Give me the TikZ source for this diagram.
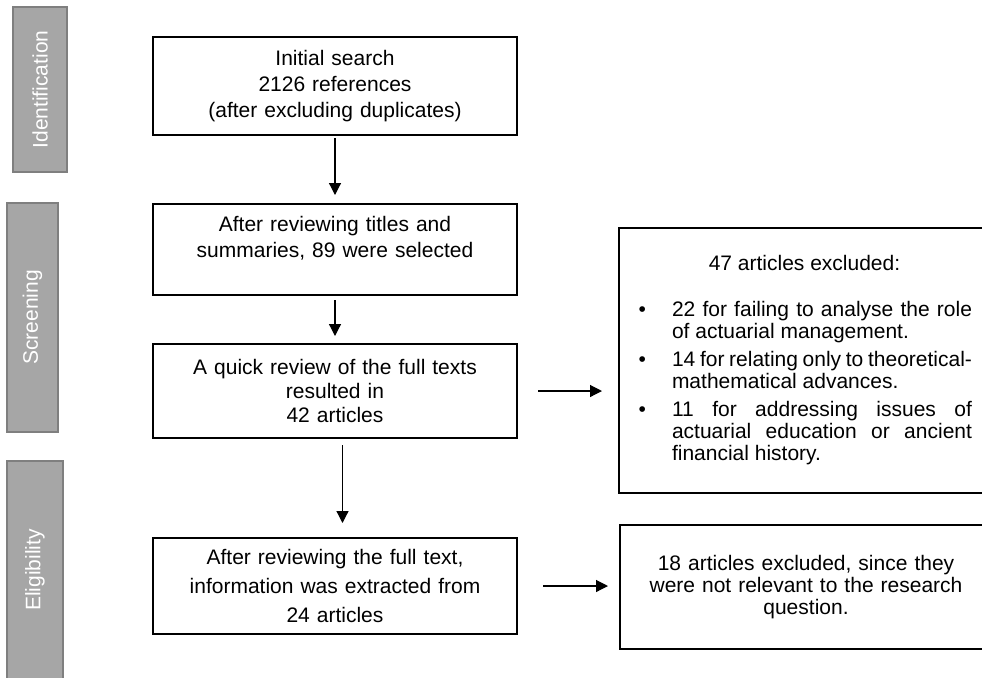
\documentclass[tikz,border=0pt]{standalone}
\usepackage{fontspec}
\setmainfont{Liberation Sans}
\usepackage{enumitem}
\usetikzlibrary{arrows.meta, positioning}

\definecolor{barfill}{HTML}{A6A6A6}
\definecolor{barline}{HTML}{7F7F7F}

\begin{document}
\begin{tikzpicture}[
      x=0.5pt, y=-0.5pt,
      stage/.style={rectangle, draw=barline, fill=barfill, line width=0.8pt, rotate=90, text=white, font=\fontsize{10.5}{12}\selectfont},
      block/.style={rectangle, draw, line width=1pt, text width=170pt, inner xsep=6pt, align=center, font=\fontsize{10.5}{13}\selectfont},
      excl/.style={rectangle, draw, line width=1pt, inner xsep=9pt, font=\fontsize{10.5}{11}\selectfont},
      arrow/.style={line width=0.6pt, -{Triangle[length=6pt,width=6pt]}}
    ]
    \useasboundingbox (0,0) rectangle (982,677);

    % phase bars on the left
    \node [stage, minimum width=82.5pt, minimum height=27pt] (ident) at (40,89.5) {Identification};
    \node [stage, minimum width=114.5pt, minimum height=25.5pt] (screen) at (32.5,317.5) {Screening};
    \node [stage, minimum width=109pt, minimum height=28pt] (elig) at (35,570) {Eligibility};

    % main flow
    \node [block, minimum height=49pt] (search) at (335,86) {Initial search\\2126 references\\(after excluding duplicates)};
    \node [block, minimum height=45.5pt, below=33.5pt of search] (titles) {After reviewing titles and\\summaries, 89 were selected\\\mbox{}};
    \node [block, minimum height=47pt, below=23.5pt of titles, font=\fontsize{10.5}{12}\selectfont] (quick) {A quick review of the full texts\\resulted in\\42 articles};
    \node [block, minimum height=48pt, below=49pt of quick, font=\fontsize{10.5}{14.5}\selectfont] (full) {After reviewing the full text,\\information was extracted from\\24 articles};

    % exclusions
    \node [excl, text width=167.5pt, align=justify, minimum height=132.5pt] (excl1) at (804.5,360.5) {%
      {\centering 47 articles excluded:\par}\vspace{12pt}
      \begin{itemize}[nosep, leftmargin=17.5pt, labelsep=13pt, itemsep=3pt]
        \item 22 for failing to analyse the role\linebreak of actuarial management.
        \item 14 for relating only to theoretical-\linebreak mathematical advances.
        \item 11 for addressing issues of\linebreak actuarial education or ancient\linebreak financial history.
      \end{itemize}};
    \node [excl, text width=168pt, align=center, minimum height=62pt] (excl2) at (806,587) {18 articles excluded, since they\\were not relevant to the research\\question.};

    \draw [arrow, shorten <=1pt, shorten >=4pt] (search) -- (titles);
    \draw [arrow, shorten <=2pt, shorten >=3.5pt] (titles) -- (quick);
    \draw [arrow, shorten <=3pt, shorten >=7pt] ([xshift=3.75pt]quick.south) -- ([xshift=3.75pt]full.north);
    \draw [arrow, shorten <=10pt, shorten >=8pt] (quick.east) -- (quick.east -| excl1.west);
    \draw [arrow, shorten <=12.5pt, shorten >=5.5pt] (full.east) -- (full.east -| excl2.west);
  \end{tikzpicture}
\end{document}
